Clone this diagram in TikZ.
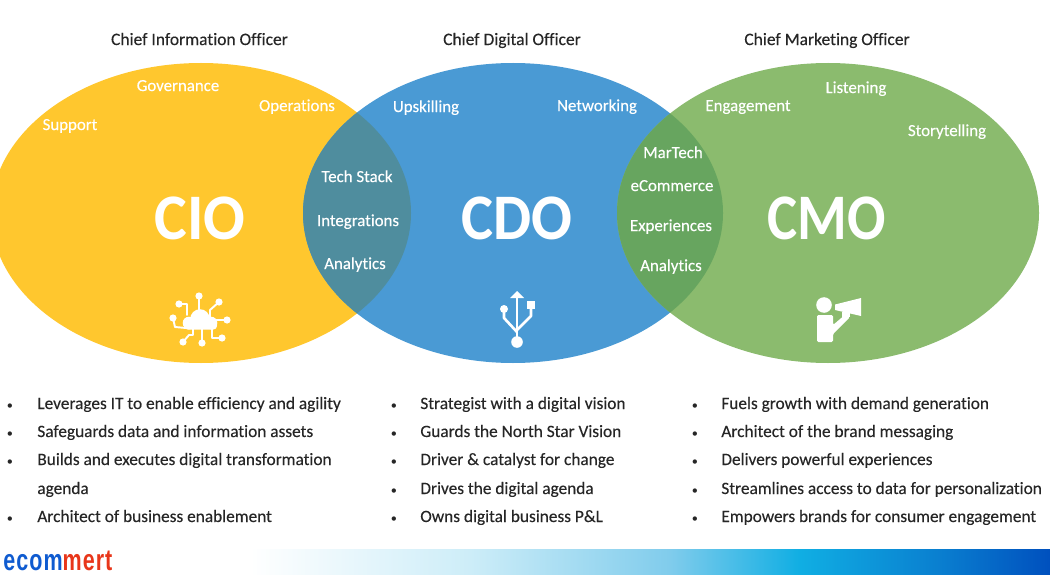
\documentclass[tikz,border=0pt]{standalone}
\usepackage{fontspec}
\setmainfont{Carlito}[Ligatures=NoCommon]
\newfontfamily\semifont{Carlito}[Ligatures=NoCommon,FakeBold=0.25]
\newfontfamily\logofont{Liberation Sans}[FakeStretch=0.72,LetterSpace=3.5]
\definecolor{cioyellow}{HTML}{FFC72E}
\definecolor{cdoblue}{HTML}{4A9AD4}
\definecolor{cmogreen}{HTML}{8BBB6E}
\definecolor{overlapteal}{HTML}{4F8D9E}
\definecolor{overlapgreen}{HTML}{67A55F}
\definecolor{darktext}{HTML}{262626}
\definecolor{logoblue}{HTML}{0F5BD0}
\definecolor{logored}{HTML}{E8361A}
\definecolor{barone}{HTML}{CDEDF8}
\definecolor{bartwo}{HTML}{80CCEC}
\definecolor{barthree}{HTML}{10AEE3}
\definecolor{barfour}{HTML}{0A80D0}
\definecolor{barfive}{HTML}{0050BE}
\tikzset{
  roletitle/.style={font=\semifont\fontsize{9.95}{12}\selectfont,text=darktext,inner sep=0pt,text height=6.6pt,text depth=2pt},
  skill/.style={font=\semifont\fontsize{9.6}{12}\selectfont,text=white,inner sep=0pt,text height=6.6pt,text depth=2pt},
  bigrole/.style={font=\fontsize{37}{40}\selectfont\bfseries,text=white,inner sep=0pt},
  item/.style={font=\semifont\fontsize{9.85}{12}\selectfont,text=darktext,inner sep=0pt,anchor=base west},
  bull/.style={font=\fontsize{7}{12}\selectfont,text=darktext,inner sep=0pt,anchor=base},
  iconline/.style={draw=white,line width=1.1pt,line cap=round,line join=round},
}
\begin{document}
\begin{tikzpicture}[x=0.02cm,y=-0.02cm]
  \useasboundingbox (0,0) rectangle (1050,574);
  % circles
  \fill[cioyellow] (201,213) ellipse (210 and 150);
  \fill[cdoblue] (513,213) ellipse (210 and 150);
  \fill[cmogreen] (828,213) ellipse (211 and 150);
  \begin{scope}
    \clip (201,213) ellipse (210 and 150);
    \fill[overlapteal] (513,213) ellipse (210 and 150);
  \end{scope}
  \begin{scope}
    \clip (513,213) ellipse (210 and 150);
    \fill[overlapgreen] (828,213) ellipse (211 and 150);
  \end{scope}
  % titles
  \node[roletitle] (ciotitle) at (199.5,41) {Chief Information Officer};
  \node[roletitle] (cdotitle) at (512,41) {Chief Digital Officer};
  \node[roletitle] (cmotitle) at (827,41) {Chief Marketing Officer};
  % outer labels
  \node[skill] (governance) at (178,87) {Governance};
  \node[skill] (operations) at (297,107) {Operations};
  \node[skill] (support) at (70,126) {Support};
  \node[skill] (upskilling) at (426,108) {Upskilling};
  \node[skill] (networking) at (597,107) {Networking};
  \node[skill] (engagement) at (748,107) {Engagement};
  \node[skill] (listening) at (856,89) {Listening};
  \node[skill] (storytelling) at (947,132) {Storytelling};
  % overlap labels
  \node[skill] (techstack) at (357,178) {Tech Stack};
  \node[skill] (integrations) at (358,222) {Integrations};
  \node[skill] (analyticsa) at (355,265) {Analytics};
  \node[skill] (martech) at (673,154) {MarTech};
  \node[skill] (ecommerce) at (672,187) {eCommerce};
  \node[skill] (experiences) at (671,227) {Experiences};
  \node[skill] (analyticsb) at (671,267) {Analytics};
  % big letters
  \node[bigrole,xscale=0.95] (cio) at (200,218) {CIO};
  \node[bigrole,xscale=0.93] (cdo) at (517,218) {CDO};
  \node[bigrole,xscale=0.875] (cmo) at (827,218) {CMO};
  % cloud icon
  \draw[iconline] (199,296) -- (199,312);
  \draw[iconline] (179,304) -- (187,304) -- (187,315);
  \draw[iconline] (219,302) -- (210,310) -- (210,318);
  \draw[iconline] (173,318) -- (175,327) -- (186,328);
  \draw[iconline] (227,320) -- (214,320);
  \draw[iconline] (183,342) -- (189,335) -- (193,335) -- (193,328);
  \draw[iconline] (202,343) -- (202,328);
  \draw[iconline] (222,338) -- (212,338) -- (212,328);
  \foreach \a/\b in {199/296, 179/304, 219/302, 173/318, 227/320, 183/342, 202/343, 222/338}
    \fill[white] (\a,\b) circle (3.6);
  \fill[white] (189,323) circle (6.3);
  \fill[white] (200,319) circle (9.8);
  \fill[white] (211,323) circle (6.3);
  \fill[white,rounded corners=2] (184,322) rectangle (217,329.5);
  % usb icon
  \draw[iconline,line width=1.5pt] (517,296) -- (517,338);
  \draw[iconline,line width=1.5pt] (504,309) -- (504,318) -- (517,332);
  \draw[iconline,line width=1.5pt] (531,305) -- (531,316) -- (517,330);
  \fill[white] (517,342) circle (5.8);
  \fill[white] (504,309) circle (4);
  \fill[white] (527,301) rectangle (535,309);
  \fill[white] (517,291) -- (524,298) -- (510,298) -- cycle;
  % megaphone icon
  \fill[white] (824,305) circle (7.8);
  \fill[white,rounded corners=0.8] (817,342) -- (817,315) -- (833,315) -- (833,325)
    -- (846,314) -- (850,317) -- (833,334) -- (833,342) -- cycle;
  \fill[white] (835,304.5) -- (861,298) -- (861,316) -- (835,310) -- cycle;
  \fill[white] (842,312) rectangle (850,317);
  % lists
  \foreach \y/\txt [count=\i] in {409/Leverages IT to enable efficiency and agility,
      437/Safeguards data and information assets,
      465/Builds and executes digital transformation,
      522/Architect of business enablement}{
    \node[bull] (ciobull\i) at (10,\y) {•};
    \node[item] (cioitem\i) at (37,\y) {\txt};
  }
  \node[item] (cioagenda) at (37,494) {agenda};
  \foreach \y/\txt [count=\i] in {409/Strategist with a digital vision,
      437/Guards the North Star Vision,
      465/Driver \& catalyst for change,
      494/Drives the digital agenda,
      522/Owns digital business P\&L}{
    \node[bull] (cdobull\i) at (394,\y) {•};
    \node[item] (cdoitem\i) at (420,\y) {\txt};
  }
  \foreach \y/\txt [count=\i] in {409/Fuels growth with demand generation,
      437/Architect of the brand messaging,
      465/Delivers powerful experiences,
      494/Streamlines access to data for personalization,
      522/Empowers brands for consumer engagement}{
    \node[bull] (cmobull\i) at (695,\y) {•};
    \node[item] (cmoitem\i) at (721,\y) {\txt};
  }
  % footer
  \fill[left color=white,right color=barone] (250,549) rectangle (470,574);
  \fill[left color=barone,right color=bartwo] (470,549) rectangle (670,574);
  \fill[left color=bartwo,right color=barthree] (670,549) rectangle (800,574);
  \fill[left color=barthree,right color=barfour] (800,549) rectangle (936,574);
  \fill[left color=barfour,right color=barfive] (936,549) rectangle (1050,574);
  \node[inner sep=0pt,anchor=base west,font=\logofont\fontsize{17}{18}\selectfont\bfseries] (logo) at (3,570.5)
    {\textcolor{logoblue}{ecom}\textcolor{logored}{mert}};
\end{tikzpicture}
\end{document}
